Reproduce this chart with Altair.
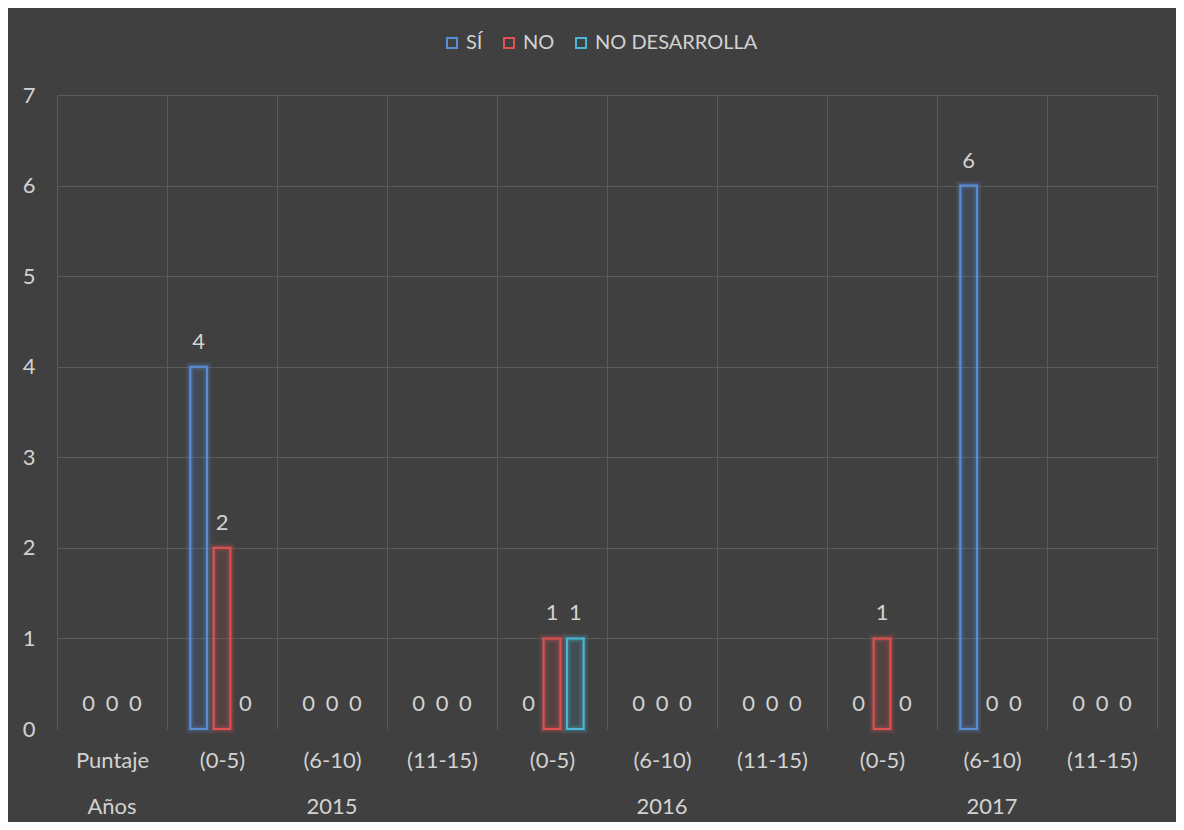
import altair as alt
import pandas as pd

years = ["Años", "2015", "2015", "2015", "2016", "2016", "2016", "2017", "2017", "2017"]
scores = ["Puntaje", "(0-5)", "(6-10)", "(11-15)", "(0-5)", "(6-10)", "(11-15)", "(0-5)", "(6-10)", "(11-15)"]
series = ["SÍ", "NO", "NO DESARROLLA"]
si_vals = [0, 4, 0, 0, 0, 0, 0, 0, 6, 0]
no_vals = [0, 2, 0, 0, 1, 0, 0, 1, 0, 0]
nd_vals = [0, 0, 0, 0, 1, 0, 0, 0, 0, 0]
year_labels = ["Años", "2015", "2016", "2017"]
year_anchor = ["Años|Puntaje", "2015|(6-10)", "2016|(6-10)", "2017|(6-10)"]
y_ticks = [0, 1, 2, 3, 4, 5, 6, 7]

colors = ["#5a8fd6", "#e05252", "#4bb6d6"]
BG = "#404040"
GRID = "#5a5a5a"
TXT = "#d2d2d2"
FONT = "Lato"
FS = 22

keys = [f"{y}|{s}" for y, s in zip(years, scores)]
rows = []
for name, vals in zip(series, [si_vals, no_vals, nd_vals]):
    for k, v in zip(keys, vals):
        rows.append({"key": k, "series": name, "value": v})
df = pd.DataFrame(rows)
ydf = pd.DataFrame({"key": year_anchor, "label": year_labels})

# per-series colour without a scale (so these layers create no legend)
color_by_series = {
    "condition": [
        {"test": f"datum.series === '{series[0]}'", "value": colors[0]},
        {"test": f"datum.series === '{series[1]}'", "value": colors[1]},
    ],
    "value": colors[2],
}

xenc = alt.X("key:N", sort=keys, scale=alt.Scale(paddingInner=0, paddingOuter=0),
             axis=alt.Axis(title=None, labelExpr="split(datum.value, '|')[1]",
                           grid=True, gridColor=GRID, tickBand="extent", ticks=False,
                           tickSize=0, domain=False, labelPadding=21, labelAngle=0,
                           labelFontSize=FS, labelColor=TXT, labelFont=FONT))
xoff = alt.XOffset("series:N", sort=series, scale=alt.Scale(paddingInner=0.28, paddingOuter=1))
yenc = alt.Y("value:Q", scale=alt.Scale(domain=[0, 7], nice=False),
             axis=alt.Axis(title=None, values=y_ticks, grid=True, gridColor=GRID,
                           gridOpacity=alt.condition("datum.value === 0", alt.value(0), alt.value(1)),
                           domain=False, ticks=False, tickSize=0, labelPadding=22,
                           labelFontSize=FS, labelColor=TXT, labelFont=FONT))
stroke_scale = alt.Scale(domain=series, range=colors)
leg = alt.Legend(title=None, orient="none", legendX=385, legendY=-62, direction="horizontal",
                 symbolType="square", symbolSize=100, symbolStrokeWidth=2,
                 symbolFillColor="transparent", symbolOpacity=1,
                 labelFontSize=20, labelColor=TXT, labelLimit=0,
                 labelFont=FONT, columnPadding=16, symbolOffset=0, labelOffset=4, padding=0)

base = alt.Chart(df)
bars_df = base.transform_filter("datum.value > 0")

glow1 = bars_df.mark_bar(filled=False, strokeWidth=9, strokeOpacity=0.12).encode(
    x=xenc, xOffset=xoff, y=yenc, stroke=color_by_series)
glow2 = bars_df.mark_bar(filled=False, strokeWidth=5, strokeOpacity=0.2).encode(
    x=xenc, xOffset=xoff, y=yenc, stroke=color_by_series)
tint = bars_df.mark_bar(fillOpacity=0.12, strokeWidth=0).encode(
    x=xenc, xOffset=xoff, y=yenc, fill=color_by_series)
main = bars_df.mark_bar(filled=False, strokeWidth=2).encode(
    x=xenc, xOffset=xoff, y=yenc,
    stroke=alt.Stroke("series:N", scale=stroke_scale, sort=series, legend=leg))
labels = base.mark_text(dy=-25, fontSize=FS, color=TXT, font=FONT, baseline="middle").encode(
    x=xenc, xOffset=xoff, y=yenc, text=alt.Text("value:Q"))
yearText = alt.Chart(ydf).mark_text(fontSize=FS, color=TXT, font=FONT, baseline="middle").encode(
    x=alt.X("key:N", sort=keys), y=alt.value(712), text="label:N")

chart = alt.layer(glow1, glow2, tint, main, labels, yearText).properties(
    width=1100, height=634,
    padding={"left": 49, "top": 87, "right": 19, "bottom": 93},
    autosize=alt.AutoSizeParams(type="none"),
    background=BG,
).configure_view(stroke=None)

chart.save("out.html", embed_options={"renderer": "svg", "actions": False})
